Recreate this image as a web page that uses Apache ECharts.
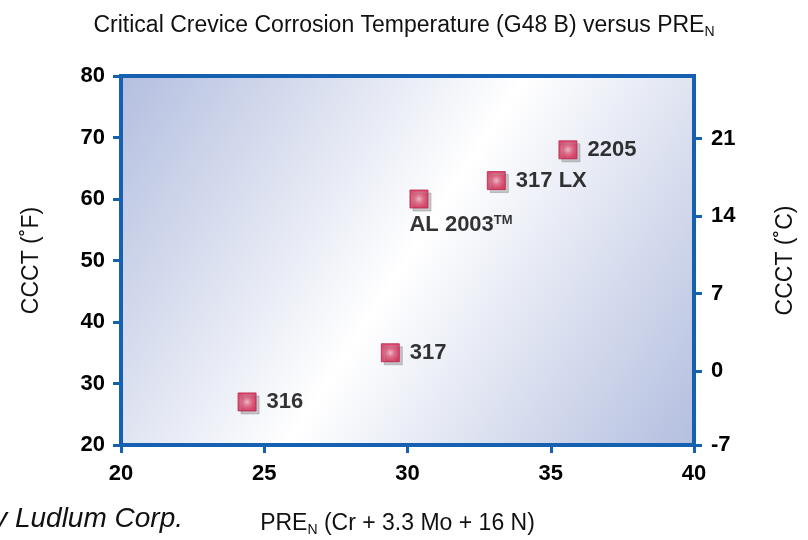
<!DOCTYPE html>
<html>
<head>
<meta charset="utf-8">
<script src="https://cdn.jsdelivr.net/npm/echarts@6/dist/echarts.min.js"></script>
<style>
  html, body { margin: 0; padding: 0; background: #fff; }
  #chart { width: 808px; height: 540px; }
</style>
</head>
<body>
<div id="chart"></div>
<script>
// alloy data: PREN vs critical crevice temperature (F)
var alloys = ['316', '317', 'AL 2003', '317 LX', '2205'];
var pren = [24.4, 29.4, 30.4, 33.1, 35.6];
var ccctF = [27, 35, 60, 63, 68];
var cMin = (20 - 32) / 1.8;
var cMax = (80 - 32) / 1.8;
var celsiusTicks = [cMin, 0, 7, 14, 21];

var blue = '#1560b0';
var font = 'Liberation Sans, Arial, sans-serif';

var points = alloys.map(function (name, i) {
  var item = { name: name, value: [pren[i], ccctF[i]] };
  if (name === 'AL 2003') {
    // label sits under the marker
    item.label = {
      position: [0, 24],
      align: 'left',
      verticalAlign: 'top',
      formatter: '{a|AL 2003}{tm|TM}'
    };
  }
  return item;
});

var chart = echarts.init(document.getElementById('chart'));
chart.setOption({
  animation: false,
  title: {
    text: 'Critical Crevice Corrosion Temperature (G48 B) versus PRE{sub|N}',
    left: 'center',
    top: 7,
    textStyle: {
      fontFamily: font,
      fontSize: 23,
      fontWeight: 'normal',
      color: '#111',
      rich: {
        sub: { fontFamily: font, fontSize: 14, color: '#111', padding: [13, 0, 0, 0] }
      }
    }
  },
  graphic: [{
    type: 'text',
    right: 625,
    top: 505,
    style: {
      text: 'Courtesy Allegheny Ludlum Corp.',
      font: 'italic 28px ' + font,
      fill: '#111'
    }
  }],
  grid: {
    left: 121,
    right: 114,
    top: 76,
    bottom: 95,
    outerBoundsMode: 'none',
    show: true,
    borderColor: blue,
    borderWidth: 4,
    backgroundColor: new echarts.graphic.LinearGradient(0, 0, 1, 1, [
      { offset: 0, color: '#b3bedf' },
      { offset: 0.5, color: '#ffffff' },
      { offset: 1, color: '#b3bedf' }
    ])
  },
  xAxis: {
    type: 'value',
    min: 20,
    max: 40,
    interval: 5,
    name: 'PRE{sub|N} (Cr + 3.3 Mo + 16 N)',
    nameLocation: 'middle',
    nameGap: 65,
    nameTextStyle: {
      fontFamily: font,
      fontSize: 23,
      color: '#111',
      padding: [0, 20, 0, 0],
      rich: {
        sub: { fontFamily: font, fontSize: 14, color: '#111', padding: [13, 0, 0, 0] }
      }
    },
    splitLine: { show: false },
    axisLine: { show: true, onZero: false, lineStyle: { color: blue, width: 4 } },
    axisTick: { show: true, inside: false, length: 8, lineStyle: { color: blue, width: 3 } },
    axisLabel: { fontFamily: font, fontSize: 22, fontWeight: 'bold', color: '#000', margin: 18 }
  },
  yAxis: [{
    type: 'value',
    min: 20,
    max: 80,
    interval: 10,
    name: 'CCCT (˚F)',
    nameLocation: 'middle',
    nameGap: 78,
    nameTextStyle: { fontFamily: font, fontSize: 23, color: '#111' },
    splitLine: { show: false },
    axisLine: { show: true, onZero: false, lineStyle: { color: blue, width: 4 } },
    axisTick: { show: true, length: 8, lineStyle: { color: blue, width: 3 } },
    axisLabel: { fontFamily: font, fontSize: 22, fontWeight: 'bold', color: '#000', margin: 16 }
  }, {
    type: 'value',
    position: 'right',
    min: cMin,
    max: cMax,
    name: 'CCCT (˚C)',
    nameLocation: 'middle',
    nameRotate: 90,
    nameGap: 80,
    nameTextStyle: { fontFamily: font, fontSize: 23, color: '#111' },
    splitLine: { show: false },
    axisLine: { show: true, onZero: false, lineStyle: { color: blue, width: 4 } },
    axisTick: { show: true, length: 8, customValues: celsiusTicks, lineStyle: { color: blue, width: 3 } },
    axisLabel: {
      fontFamily: font, fontSize: 22, fontWeight: 'bold', color: '#000', margin: 17,
      showMinLabel: true,
      customValues: celsiusTicks,
      formatter: function (v) { return String(Math.round(v)); }
    }
  }],
  series: [{
    type: 'scatter',
    yAxisIndex: 0,
    symbol: 'rect',
    symbolSize: 18,
    itemStyle: {
      color: new echarts.graphic.RadialGradient(0.5, 0.5, 0.55, [
        { offset: 0, color: '#f2b8c4' },
        { offset: 0.4, color: '#e45a7e' },
        { offset: 0.8, color: '#da2752' },
        { offset: 1, color: '#d61f4b' }
      ]),
      borderColor: '#b3264c',
      borderWidth: 1,
      shadowColor: 'rgba(150,150,150,0.65)',
      shadowOffsetX: 3,
      shadowOffsetY: 3,
      shadowBlur: 0
    },
    label: {
      show: true,
      position: 'right',
      distance: 10,
      formatter: '{b}',
      fontFamily: font,
      fontSize: 22,
      fontWeight: 'bold',
      color: '#000',
      rich: {
        a: { fontFamily: font, fontSize: 22, fontWeight: 'bold', color: '#000' },
        tm: { fontFamily: font, fontSize: 13, fontWeight: 'bold', color: '#000', padding: [0, 0, 10, 0] }
      }
    },
    data: points
  }]
});
</script>
</body>
</html>
